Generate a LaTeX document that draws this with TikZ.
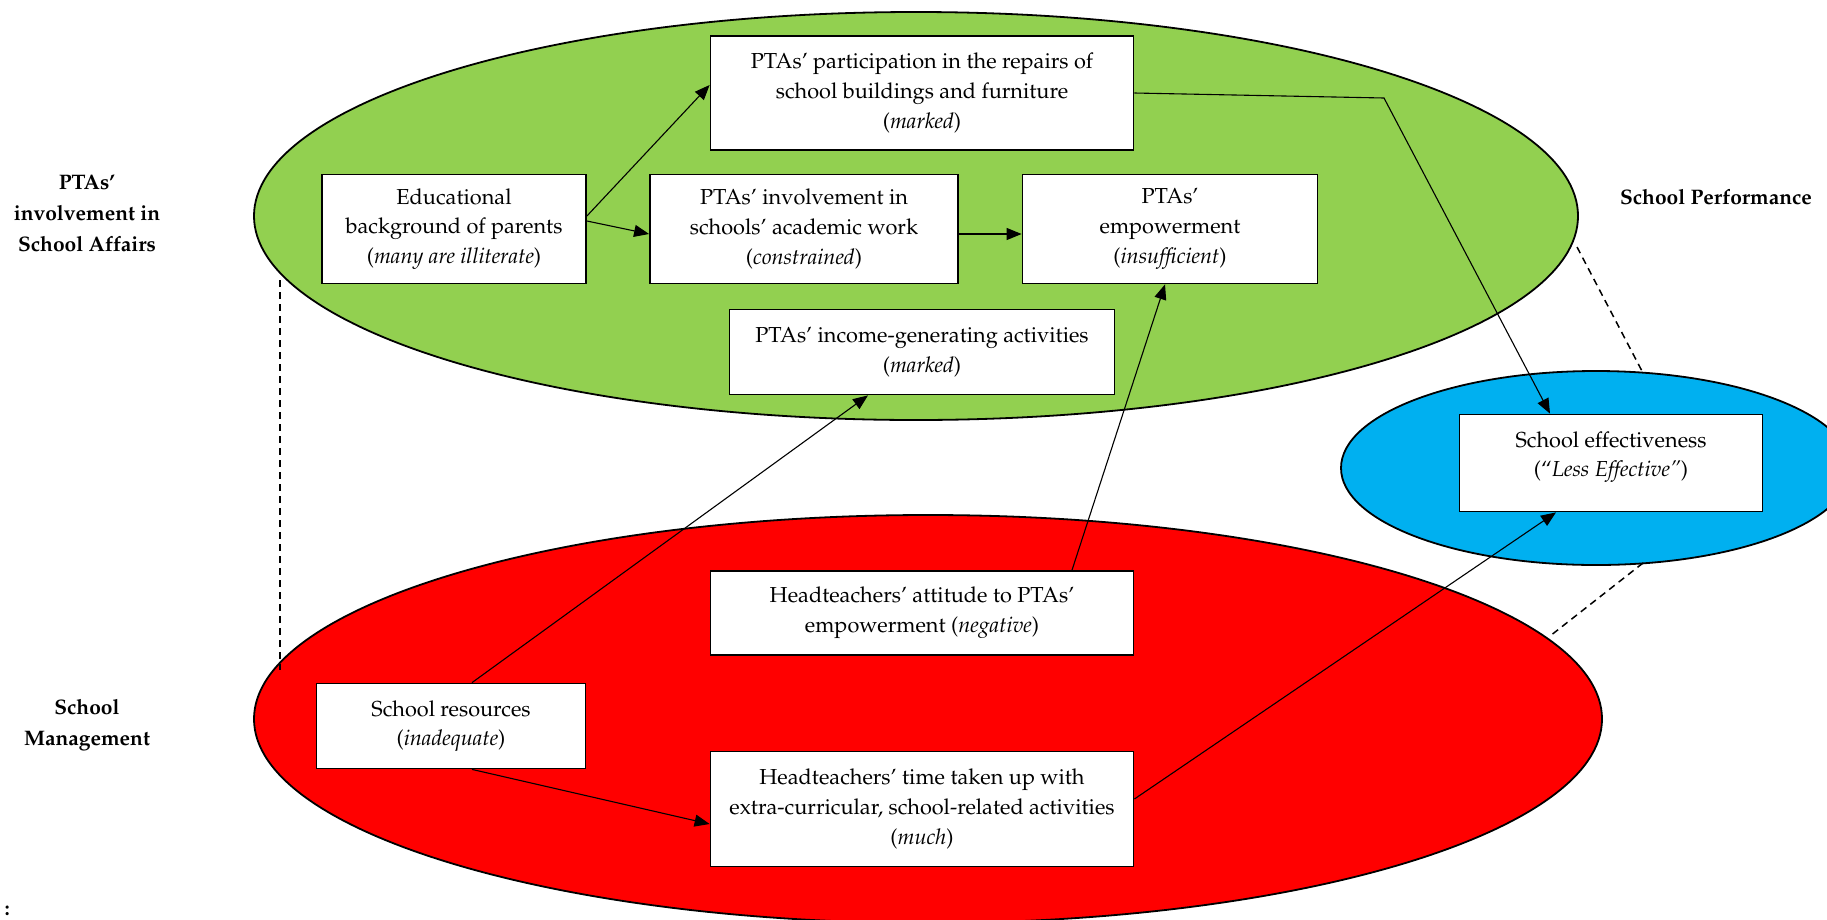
\documentclass[tikz,border=0pt]{standalone}
\usepackage[T1]{fontenc}
\usepackage{mathpazo}
\usetikzlibrary{arrows.meta,shapes.geometric}
\definecolor{ellgreen}{HTML}{92D050}
\definecolor{ellred}{HTML}{FF0000}
\definecolor{ellblue}{HTML}{00B0F0}
\begin{document}
\begin{tikzpicture}[x=1pt,y=-1pt,
  zone/.style={ellipse, draw=black, line width=1.8pt, inner sep=0pt},
  box/.style={rectangle, draw=black, line width=1.8pt, fill=white, align=center, inner sep=0pt, font=\fontsize{21.7}{29.7}\selectfont},
  conn/.style={line width=1.1pt, -{Triangle[length=15pt,width=12pt]}},
  link/.style={line width=1.5pt, dash pattern=on 7pt off 5pt},
  lab/.style={align=center, inner sep=0pt, font=\fontsize{21}{31}\selectfont\bfseries}]
\useasboundingbox (0,0) rectangle (1827,919);
\clip (0,0) rectangle (1827,919);
% zones
\node[zone, fill=ellgreen, minimum width=1324pt, minimum height=408pt] (green) at (916,216) {};
\node[zone, fill=ellred, minimum width=1348pt, minimum height=408pt] (red) at (928,719) {};
\node[zone, fill=ellblue, minimum width=510pt, minimum height=194pt] (blue) at (1596,468) {};
% dashed links
\coordinate (dl1) at (280,280); \coordinate (dl2) at (280,670);
\coordinate (dr1) at (1577,247); \coordinate (dr2) at (1643,373);
\coordinate (dr3) at (1643,563); \coordinate (dr4) at (1550,636);
\draw[link] (dl1) -- (dl2);
\draw[link] (dr1) -- (dr2);
\draw[link] (dr3) -- (dr4);
% labels
\node[lab] (lpta) at (87,213) {PTAs'\\involvement in\\School Affairs};
\node[lab] (lsm) at (87,725) {School\\Management};
\node[lab] (lsp) at (1716,197) {School Performance};
\node[lab, anchor=east] (note) at (10,911) {:};
% boxes
\node[box, minimum width=423pt, minimum height=114pt] (rep) at (922,93) {PTAs' participation in the repairs of\\school buildings and furniture\\(\textit{marked})};
\node[box, minimum width=264pt, minimum height=109pt] (edu) at (454,229) {Educational\\background of parents\\(\textit{many are illiterate})};
\node[box, minimum width=308pt, minimum height=109pt] (inv) at (804,229) {PTAs' involvement in\\schools' academic work\\(\textit{constrained})};
\node[box, minimum width=295pt, minimum height=109pt] (emp) at (1170,229) {PTAs'\\empowerment\\(\textit{insufficient})};
\node[box, minimum width=385pt, minimum height=85pt] (inc) at (922,352) {PTAs' income-generating activities\\(\textit{marked})};
\node[box, minimum width=303pt, minimum height=97pt, text depth=18pt] (eff) at (1611,463) {School effectiveness\\(``\textit{Less Effective''})};
\node[box, minimum width=423pt, minimum height=84pt] (att) at (922,613) {Headteachers' attitude to PTAs'\\empowerment (\textit{negative})};
\node[box, minimum width=269pt, minimum height=85pt] (res) at (451,726) {School resources\\(\textit{inadequate})};
\node[box, minimum width=423pt, minimum height=115pt] (time) at (922,809) {Headteachers' time taken up with\\extra-curricular, school-related activities\\(\textit{much})};
% connectors
\coordinate (bend) at (1384,98);
\draw[conn] ([yshift=13pt]edu.east) -- ([yshift=8pt]rep.west);
\draw[conn] ([yshift=8pt]edu.east) -- ([yshift=-5pt]inv.west);
\draw[conn] ([yshift=-5pt]inv.east) -- ([yshift=-5pt]emp.west);
\draw[conn] (rep.east) -- (bend) -- ([xshift=-61pt]eff.north);
\draw[conn] ([xshift=21pt]res.north) -- ([xshift=-54pt]inc.south);
\draw[conn] ([xshift=150pt]att.north) -- ([xshift=-5pt]emp.south);
\draw[conn] ([xshift=21pt]res.south) -- ([yshift=-15pt]time.west);
\draw[conn] ([yshift=10pt]time.east) -- ([xshift=-55pt]eff.south);
\end{tikzpicture}
\end{document}
